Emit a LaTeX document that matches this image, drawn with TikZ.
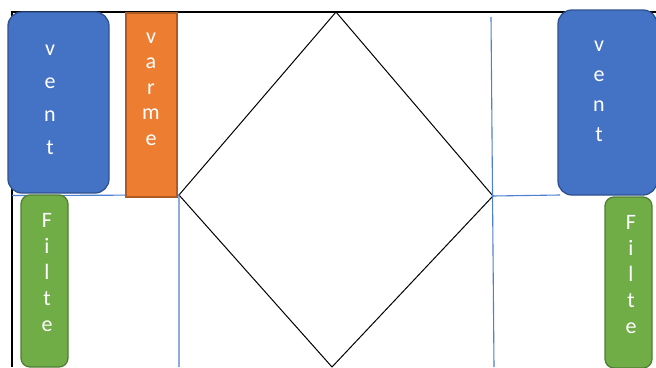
\documentclass[tikz,border=0pt]{standalone}
\usepackage{fontspec}
\setmainfont{Carlito}
\usepackage{tikz}

\definecolor{ventblue}{HTML}{4472C4}
\definecolor{ventedge}{HTML}{2F528F}
\definecolor{varmeorange}{HTML}{ED7D31}
\definecolor{varmeedge}{HTML}{AE5A21}
\definecolor{filtegreen}{HTML}{70AD47}
\definecolor{filteedge}{HTML}{507E32}
\definecolor{guideblue}{HTML}{4F7FD0}

\begin{document}
\begin{tikzpicture}[x=1pt,y=-1pt,
        wall/.style={line width=1.4pt,black},
        guide/.style={line width=1.1pt,guideblue},
        ventbox/.style={draw=ventedge,fill=ventblue,line width=1.3pt,rounded corners=14pt,inner sep=0pt},
        varmebox/.style={draw=varmeedge,fill=varmeorange,line width=1.3pt,inner sep=0pt},
        filtebox/.style={draw=filteedge,fill=filtegreen,line width=1.3pt,rounded corners=9pt,inner sep=0pt},
        letters/.style={text=white,align=center,inner sep=0pt}]
    \useasboundingbox (0,0) rectangle (656,367);
        % room outline and diamond
        \coordinate (c0) at (12,367);
        \coordinate (c1) at (12,12);
        \coordinate (c2) at (656,12);
        \coordinate (d0) at (336,12);
        \coordinate (d1) at (179,195);
        \coordinate (d2) at (332,367);
        \coordinate (d3) at (493,196);
        \draw [wall] (c0) -- (c1) -- (c2);
        \draw [line width=1pt] (d0) -- (d1) -- (d2) -- (d3) -- cycle;
        % blue guide lines
        \coordinate (g0) at (12,195.5);
        \coordinate (g1) at (179,367);
        \coordinate (g2) at (491,17);
        \coordinate (g3) at (494,367);
        \coordinate (g4) at (560,195);
        \draw [guide] (g0) -- (d1) -- (g1);
        \draw [guide] (g2) -- (g3);
        \draw [guide] (d3) -- (g4);
        % units
        \node [ventbox,minimum width=101pt,minimum height=181pt] (ventL) at (58.5,102.5) {};
        \node [varmebox,minimum width=51pt,minimum height=184pt] (varme) at (151.5,105) {};
        \node [filtebox,minimum width=47pt,minimum height=172pt] (filteL) at (44.5,281) {};
        \node [ventbox,minimum width=99pt,minimum height=185pt] (ventR) at (607.5,102.5) {};
        \node [filtebox,minimum width=47pt,minimum height=171pt] (filteR) at (628.5,282.5) {};
        \node [letters,font=\fontsize{22}{33}\selectfont] (ventLtxt) at (50,100) {v\\e\\n\\t};
        \node [letters,font=\fontsize{22}{25.5}\selectfont] (varmetxt) at (151,89) {v\\a\\r\\m\\e};
        \node [letters,font=\fontsize{22}{26}\selectfont] (filteLtxt) at (47,272.5) {F\\i\\l\\t\\e};
        \node [letters,font=\fontsize{22}{30}\selectfont] (ventRtxt) at (599,91) {v\\e\\n\\t};
        \node [letters,font=\fontsize{22}{26}\selectfont] (filteRtxt) at (631,274.5) {F\\i\\l\\t\\e};
    \end{tikzpicture}
\end{document}
